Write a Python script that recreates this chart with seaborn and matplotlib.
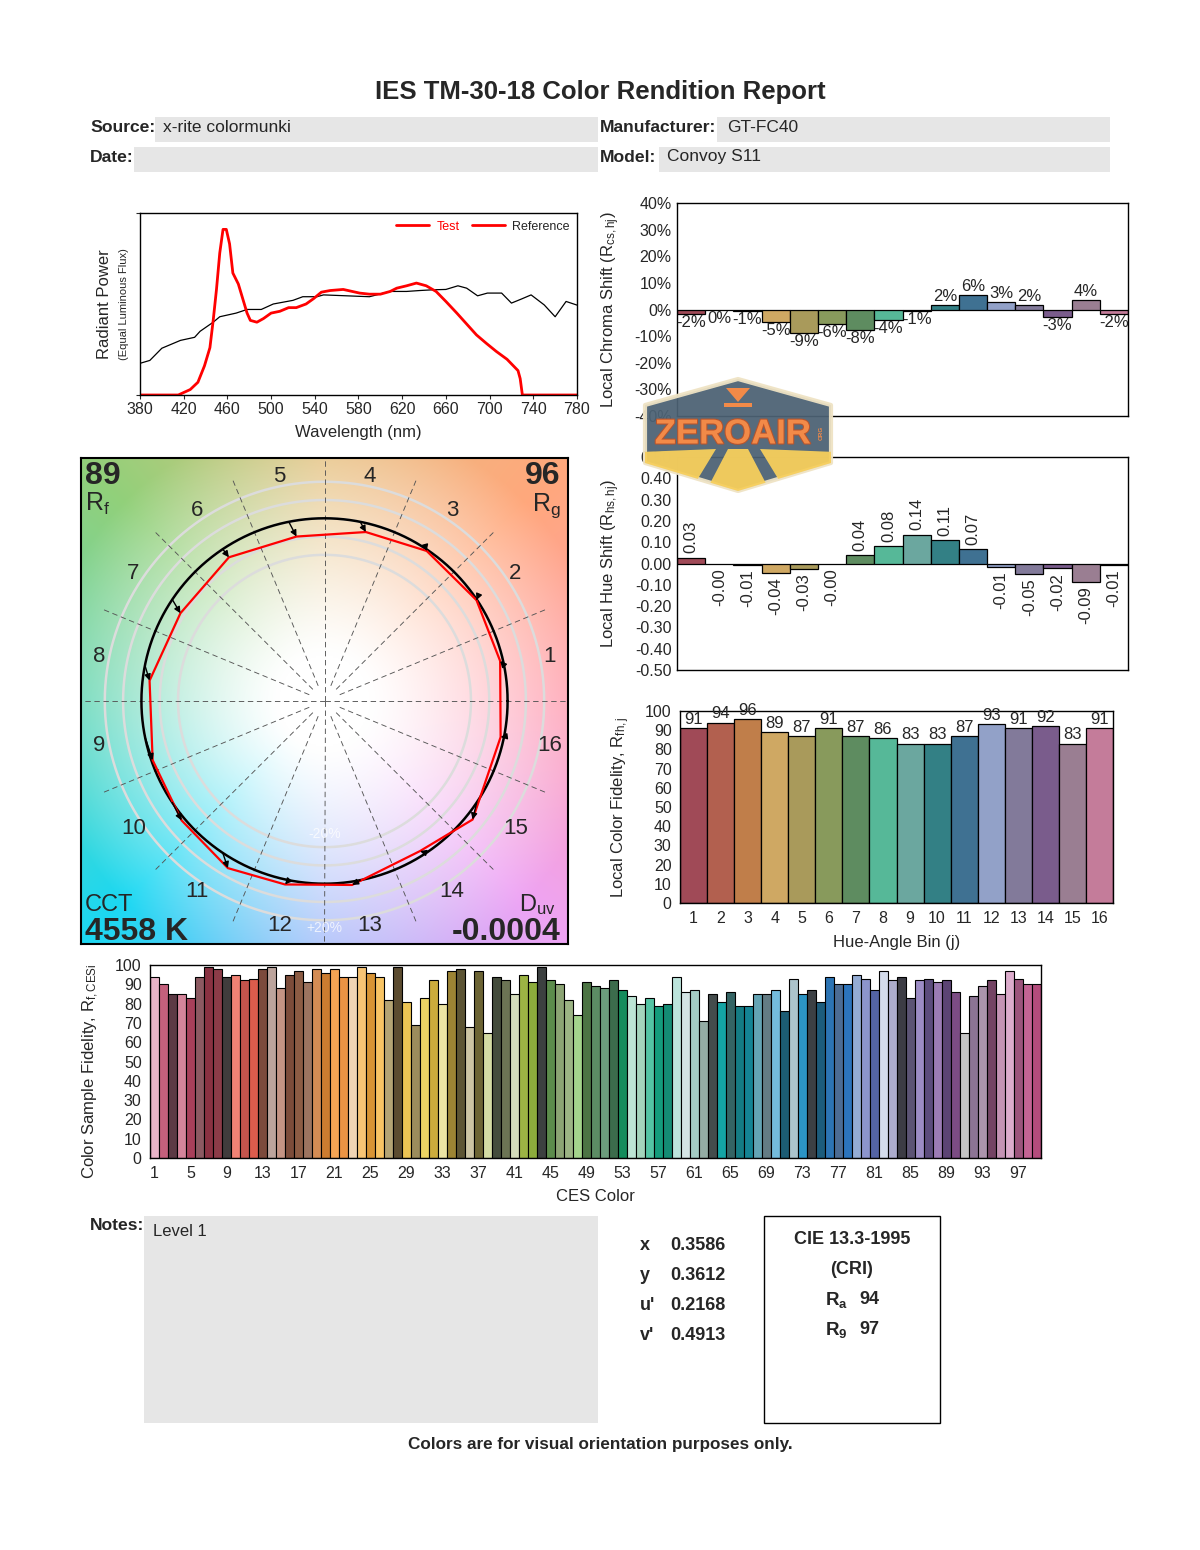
import numpy as np
import pandas as pd
import matplotlib
matplotlib.use("Agg")
import matplotlib.pyplot as plt
import matplotlib.colors as mcolors
import matplotlib.patheffects as pe
import seaborn as sns
from matplotlib.patches import Rectangle, Polygon
from matplotlib.lines import Line2D

# ---------------- data ----------------
wl_test = [380, 415, 426, 433, 439, 444, 447, 450, 453, 456, 459, 462, 465, 470, 474, 478, 481, 487, 493, 500,
           508, 516, 523, 532, 539, 546, 554, 566, 572, 581, 590, 600, 609, 615, 624, 633, 642, 651, 660, 670,
           679, 688, 697, 706, 716, 726, 728, 730, 780]
spd_test = [0, 0, 0.03, 0.07, 0.16, 0.26, 0.41, 0.58, 0.78, 0.91, 0.91, 0.83, 0.67, 0.61, 0.53, 0.45, 0.41, 0.40, 0.42, 0.45,
            0.46, 0.48, 0.48, 0.50, 0.53, 0.565, 0.574, 0.58, 0.572, 0.56, 0.554, 0.554, 0.569, 0.587, 0.60, 0.615, 0.60, 0.569, 0.514, 0.45,
            0.39, 0.33, 0.284, 0.24, 0.196, 0.134, 0.09, 0, 0]
wl_ref = [380, 389, 400, 417, 430, 435, 447, 453, 468, 478, 491, 502, 520, 529, 542, 548, 569, 590, 609, 624,
          636, 648, 660, 671, 679, 689, 698, 711, 720, 729, 738, 750, 760, 770, 780]
spd_ref = [0.174, 0.19, 0.257, 0.30, 0.317, 0.35, 0.40, 0.43, 0.45, 0.47, 0.47, 0.50, 0.52, 0.54, 0.54, 0.55, 0.545, 0.54, 0.569, 0.569,
           0.574, 0.578, 0.58, 0.60, 0.587, 0.545, 0.56, 0.56, 0.505, 0.527, 0.55, 0.495, 0.43, 0.514, 0.494]
wl_ticks = [380, 420, 460, 500, 540, 580, 620, 660, 700, 740, 780]

bins = [str(i) for i in range(1, 17)]
chroma_shift = [-0.016, -0.003, -0.007, -0.048, -0.087, -0.056, -0.078, -0.038, -0.007, 0.018, 0.056, 0.027, 0.018, -0.027, 0.037, -0.018]
hue_shift = [0.028, -0.002, -0.008, -0.043, -0.028, -0.003, 0.041, 0.08, 0.136, 0.108, 0.066, -0.015, -0.048, -0.023, -0.087, -0.006]
fidelity_hue = [91, 94, 96, 89, 87, 91, 87, 86, 83, 83, 87, 93, 91, 92, 83, 91]
hue_colors = ["#A04A57", "#B2604F", "#C07E4A", "#CFA863", "#A99A5B", "#889A5C", "#5E8C60", "#56B898",
              "#6BA79F", "#338085", "#3F7192", "#92A1C8", "#827A9A", "#7A5C8C", "#9A7E92", "#C47C9A"]

ces_values = [94, 90, 85, 85, 83, 94, 99, 98, 94, 95,
              92, 93, 98, 99, 88, 95, 97, 91, 98, 96,
              98, 94, 94, 99, 96, 94, 82, 99, 81, 69,
              83, 92, 80, 97, 98, 68, 97, 65, 94, 92,
              85, 95, 91, 99, 92, 90, 82, 74, 91, 89,
              88, 92, 87, 84, 80, 83, 79, 80, 94, 86,
              87, 71, 85, 81, 86, 79, 79, 85, 85, 87,
              76, 93, 85, 87, 81, 94, 90, 90, 95, 93,
              87, 97, 92, 94, 83, 92, 93, 91, 92, 86,
              65, 84, 89, 92, 85, 97, 93, 90, 90]
ces_colors = ["#E8B4C8", "#C4607C", "#5C3A44", "#D4849A", "#A8405A", "#8C5A62", "#8A3242", "#8C3C48", "#403C3C", "#F08274",
              "#C4544C", "#DC5C4C", "#7C4A3C", "#BCA49C", "#C49484", "#7C4C3A", "#8C5C44", "#9C7460", "#D48C54", "#CC7C30",
              "#F4A454", "#EC9444", "#F0D4B4", "#F8C474", "#D89434", "#F8C464", "#B4A474", "#5C4C30", "#ECC454", "#9C8C5C",
              "#ECD464", "#CCAC3C", "#ECE4A4", "#9C8434", "#5C5434", "#CCC4A4", "#6C6434", "#D4DCA4", "#444C3C", "#6C7454",
              "#D4DCBC", "#9CB444", "#8CAC3C", "#3C4040", "#5C8C4C", "#8CA474", "#9CB484", "#A4D48C", "#4C7444", "#5C8C64",
              "#6C9C7C", "#3C6C4C", "#148C5C", "#BCE4D4", "#A4D4BC", "#54C4A4", "#149C7C", "#148C74", "#BCE4DC", "#D4E4E4",
              "#A4CCC4", "#94ACA4", "#444C4C", "#14A4A4", "#346464", "#147C84", "#148494", "#64A4B4", "#647C84", "#74BCDC",
              "#1C5C74", "#ACC4CC", "#2C94C4", "#3C4044", "#1C5C7C", "#2C74B4", "#4C6C94", "#2C74BC", "#94ACD4", "#8C94CC",
              "#5464A4", "#D4DCEC", "#ACACCC", "#3C3C44", "#5C5474", "#9C8CC4", "#5C4C7C", "#9C7CB4", "#5C4474", "#7C4C84",
              "#C4C4C4", "#8C7494", "#AC94AC", "#744464", "#C494B4", "#DCACCC", "#9C547C", "#C46494", "#B44C7C"]
ces_names = [str(i) for i in range(1, 100)]
ces_tick_labels = [str(i) for i in range(1, 100, 4)]

bg_angles = [0, 45, 90, 135, 180, 225, 270, 315]
bg_colors = ["#FF9EB0", "#FFA87C", "#E6C282", "#92D07A", "#62D6B4", "#1CD8F2", "#A6BCFA", "#EEA4F4"]
ring_levels = [0.8, 0.9, 1.0, 1.1, 1.2]

Rf, Rg, CCT, Duv = "89", "96", "4558 K", "-0.0004"
chromaticity = [("x", "0.3586"), ("y", "0.3612"), ("u'", "0.2168"), ("v'", "0.4913")]
Ra, R9 = "94", "97"

# ---------------- style ----------------
sns.set_style("ticks")
plt.rcParams['font.family'] = ['Liberation Sans', 'DejaVu Sans']
plt.rcParams['mathtext.fontset'] = 'custom'
plt.rcParams['mathtext.rm'] = 'Liberation Sans'
plt.rcParams['mathtext.it'] = 'Liberation Sans:italic'
plt.rcParams['mathtext.bf'] = 'Liberation Sans:bold'
plt.rcParams['axes.edgecolor'] = 'black'
plt.rcParams['axes.linewidth'] = 1.0

W, H = 1200, 1550
fig = plt.figure(figsize=(12, 15.5), dpi=100, facecolor='white')


def px_axes(x0, y0, x1, y1, **kw):
    return fig.add_axes([x0 / W, 1 - y1 / H, (x1 - x0) / W, (y1 - y0) / H], **kw)


TICK = 11.5

# background / page annotations
bg = px_axes(0, 0, W, H, zorder=-1)
bg.set_xlim(0, W)
bg.set_ylim(H, 0)
bg.axis('off')
GRAY = "#E6E6E6"
bg.text(600, 92, "IES TM-30-18 Color Rendition Report", ha='center', va='center', fontsize=18.5, fontweight='bold')
for (x0, y0, x1, y1) in [(155, 117, 598, 142), (717, 117, 1110, 142), (134, 147, 598, 172), (659, 147, 1110, 172)]:
    bg.add_patch(Rectangle((x0, y0), x1 - x0, y1 - y0, facecolor=GRAY, edgecolor='none'))
HL, HV = 12.6, 12.5
bg.text(90, 127, "Source:", ha='left', va='center', fontsize=HL, fontweight='bold')
bg.text(163, 127, "x-rite colormunki", ha='left', va='center', fontsize=HV)
bg.text(600, 127, "Manufacturer:", ha='left', va='center', fontsize=HL, fontweight='bold')
bg.text(727, 127, "GT-FC40", ha='left', va='center', fontsize=HV)
bg.text(90, 157, "Date:", ha='left', va='center', fontsize=HL, fontweight='bold')
bg.text(600, 157, "Model:", ha='left', va='center', fontsize=HL, fontweight='bold')
bg.text(667, 157, "Convoy S11", ha='left', va='center', fontsize=HV)

bg.text(90, 1226, "Notes:", ha='left', va='center', fontsize=HL, fontweight='bold')
bg.add_patch(Rectangle((144, 1216), 454, 207, facecolor=GRAY, edgecolor='none'))
bg.text(153, 1231, "Level 1", ha='left', va='center', fontsize=12)
for k, (lab, val) in enumerate(chromaticity):
    yy = 1245 + 30 * k
    bg.text(640, yy, lab, ha='left', va='center', fontsize=13, fontweight='bold')
    bg.text(670, yy, val, ha='left', va='center', fontsize=13, fontweight='bold')
bg.add_patch(Rectangle((764, 1216), 176, 207, facecolor='none', edgecolor='black', lw=1))
bg.text(852, 1240, "CIE 13.3-1995", ha='center', va='center', fontsize=13, fontweight='bold')
bg.text(852, 1270, "(CRI)", ha='center', va='center', fontsize=13, fontweight='bold')
bg.text(825, 1300, r"R$_{\mathbf{a}}$", ha='left', va='center', fontsize=13.5, fontweight='bold')
bg.text(859, 1300, Ra, ha='left', va='center', fontsize=13, fontweight='bold')
bg.text(825, 1330, r"R$_{\mathbf{9}}$", ha='left', va='center', fontsize=13.5, fontweight='bold')
bg.text(859, 1330, R9, ha='left', va='center', fontsize=13, fontweight='bold')
bg.text(600, 1444, "Colors are for visual orientation purposes only.", ha='center', va='center',
        fontsize=12.3, fontweight='bold')

# ---------------- spectrum ----------------
ax = px_axes(140, 213, 577, 395)
sns.lineplot(x=wl_ref, y=spd_ref, color='black', lw=0.9, ax=ax, estimator=None)
sns.lineplot(x=wl_test, y=spd_test, color='red', lw=2.0, ax=ax, estimator=None)
ax.set_xlim(380, 780)
ax.set_ylim(0, 1)
ax.set_xticks(wl_ticks)
ax.set_xticklabels([str(t) for t in wl_ticks], fontsize=TICK)
ax.set_yticks([0, 1])
ax.set_yticklabels([])
ax.tick_params(axis='both', length=3, width=0.8, pad=2)
ax.set_xlabel("")
ax.set_ylabel("")
ax.text(0.5, -0.205, "Wavelength (nm)", transform=ax.transAxes, ha='center', va='center', fontsize=12)
ax.text(-0.082, 0.5, "Radiant Power", transform=ax.transAxes, rotation=90, ha='center', va='center', fontsize=12)
ax.text(-0.036, 0.5, "(Equal Luminous Flux)", transform=ax.transAxes, rotation=90, ha='center', va='center', fontsize=8)
handles = [Line2D([], [], color='red', lw=2), Line2D([], [], color='red', lw=2)]
leg = ax.legend(handles, ["Test", "Reference"], loc='upper right', ncol=2, frameon=False, fontsize=9,
                handlelength=2.6, columnspacing=1.0, borderaxespad=0.2, handletextpad=0.6)
leg.get_texts()[0].set_color('red')
for s in ax.spines.values():
    s.set_visible(True)

# ---------------- chroma shift ----------------
df_c = pd.DataFrame({"bin": bins, "v": chroma_shift})
ax = px_axes(677, 203, 1128, 416)
sns.barplot(data=df_c, x="bin", y="v", hue="bin", order=bins, hue_order=bins, palette=hue_colors,
            legend=False, width=1.0, saturation=1, edgecolor='black', linewidth=0.9, errorbar=None, ax=ax)
ax.set_xlim(-0.5, 15.5)
ax.set_ylim(-0.4, 0.4)
cticks = [k / 10 for k in range(-4, 5)]
ax.set_yticks(cticks)
ax.set_yticklabels([f"{int(round(t * 100))}%" for t in cticks], fontsize=TICK)
ax.set_xticks([])
ax.tick_params(axis='y', length=0, pad=4)
ax.set_xlabel("")
ax.set_ylabel(r"Local Chroma Shift (R$_{\mathregular{cs,hj}}$)", fontsize=12)
ax.yaxis.set_label_coords(-0.122, 0.5)
for i, v in enumerate(chroma_shift):
    lab = f"{int(round(v * 100))}%"
    if v >= 0:
        ax.text(i, v + 0.004, lab, ha='center', va='bottom', fontsize=12)
    else:
        ax.text(i, v - 0.004, lab, ha='center', va='top', fontsize=12)

# ---------------- hue shift ----------------
df_h = pd.DataFrame({"bin": bins, "v": hue_shift})
ax = px_axes(677, 457, 1128, 670)
sns.barplot(data=df_h, x="bin", y="v", hue="bin", order=bins, hue_order=bins, palette=hue_colors,
            legend=False, width=1.0, saturation=1, edgecolor='black', linewidth=0.9, errorbar=None, ax=ax)
ax.set_xlim(-0.5, 15.5)
ax.set_ylim(-0.5, 0.5)
hticks = [round(k / 10, 2) for k in range(-5, 6)]
ax.set_yticks(hticks)
ax.set_yticklabels([f"{t:.2f}" for t in hticks], fontsize=TICK)
ax.set_xticks([])
ax.tick_params(axis='y', length=0, pad=4)
ax.set_xlabel("")
ax.set_ylabel(r"Local Hue Shift (R$_{\mathregular{hs,hj}}$)", fontsize=12)
ax.yaxis.set_label_coords(-0.122, 0.5)
for i, v in enumerate(hue_shift):
    lab = f"{v:.2f}"
    if v >= 0:
        ax.text(i, v + 0.02, lab, ha='center', va='bottom', rotation=90, fontsize=12)
    else:
        ax.text(i, v - 0.02, lab, ha='center', va='top', rotation=90, fontsize=12)

# ---------------- local fidelity ----------------
df_f = pd.DataFrame({"bin": bins, "v": fidelity_hue})
ax = px_axes(680, 711, 1113, 903)
sns.barplot(data=df_f, x="bin", y="v", hue="bin", order=bins, hue_order=bins, palette=hue_colors,
            legend=False, width=1.0, saturation=1, edgecolor='black', linewidth=0.9, errorbar=None, ax=ax)
ax.set_xlim(-0.5, 15.5)
ax.set_ylim(0, 100)
ax.set_yticks(range(0, 101, 10))
ax.set_yticklabels([str(t) for t in range(0, 101, 10)], fontsize=TICK)
ax.set_xticks(range(16))
ax.set_xticklabels(bins, fontsize=TICK)
ax.tick_params(axis='both', length=0, pad=6)
ax.set_xlabel("Hue-Angle Bin (j)", fontsize=12)
ax.xaxis.set_label_coords(0.5, -0.165)
ax.set_ylabel(r"Local Color Fidelity, R$_{\mathregular{fh,j}}$", fontsize=12)
ax.yaxis.set_label_coords(-0.111, 0.5)
for i, v in enumerate(fidelity_hue):
    ax.text(i, v + 0.6, str(v), ha='center', va='bottom', fontsize=12)

# ---------------- CES fidelity ----------------
df_s = pd.DataFrame({"ces": ces_names, "v": ces_values})
ax = px_axes(150, 965, 1041, 1158)
sns.barplot(data=df_s, x="ces", y="v", hue="ces", order=ces_names, hue_order=ces_names, palette=ces_colors,
            legend=False, width=1.0, saturation=1, edgecolor='black', linewidth=0.8, errorbar=None, ax=ax)
ax.set_xlim(-0.5, 98.5)
ax.set_ylim(0, 100)
ax.set_yticks(range(0, 101, 10))
ax.set_yticklabels([str(t) for t in range(0, 101, 10)], fontsize=TICK)
ax.set_xticks(range(0, 99, 4))
ax.set_xticklabels(ces_tick_labels, fontsize=TICK)
ax.tick_params(axis='both', length=0, pad=6)
ax.set_xlabel("CES Color", fontsize=12)
ax.xaxis.set_label_coords(0.5, -0.16)
ax.set_ylabel(r"Color Sample Fidelity, R$_{\mathregular{f,CESi}}$", fontsize=12)
ax.yaxis.set_label_coords(-0.055, 0.45)

# ---------------- color vector graphic ----------------
ax = px_axes(81, 458, 568, 944)
L = 1.33
g = np.linspace(-L, L, 420)
X, Y = np.meshgrid(g, g)
Rr = np.hypot(X, Y)
A = np.degrees(np.arctan2(Y, X)) % 360
ang = np.array(bg_angles + [360], dtype=float)
cols = np.array([mcolors.to_rgb(c) for c in bg_colors + [bg_colors[0]]])
img = np.stack([np.interp(A, ang, cols[:, k]) for k in range(3)], axis=-1)
t = np.clip((Rr - 0.25) / 1.3, 0, 1) ** 1.2
img = 1 - t[..., None] * (1 - img)
ax.imshow(img, extent=[-L, L, -L, L], origin='lower', aspect='auto', interpolation='bilinear', zorder=0)

th = np.linspace(0, 2 * np.pi, 361)
for rr in ring_levels:
    ax.plot(rr * np.cos(th), rr * np.sin(th), color='#DCDCDC', lw=1.8, zorder=1)
for k in range(16):
    a = np.radians(k * 22.5)
    r0 = 0.0 if k % 4 == 0 else 0.09
    ax.plot([r0 * np.cos(a), 1.32 * np.cos(a)], [r0 * np.sin(a), 1.32 * np.sin(a)],
            color='#555555', lw=0.65, ls=(0, (6, 4)), zorder=2)
ax.text(0, -0.73, "-20%", color='white', alpha=0.75, fontsize=10, ha='center', va='center', zorder=2)
ax.text(0, -1.245, "+20%", color='white', alpha=0.75, fontsize=10, ha='center', va='center', zorder=2)

ax.plot(np.cos(th), np.sin(th), color='black', lw=1.8, zorder=3)
theta_c = np.radians((np.arange(16) + 0.5) * 22.5)
ang_t = theta_c + np.array(hue_shift)
rad_t = 1 + np.array(chroma_shift)
xt = rad_t * np.cos(ang_t)
yt = rad_t * np.sin(ang_t)
poly = pd.DataFrame({"x": np.append(xt, xt[0]), "y": np.append(yt, yt[0])})
sns.lineplot(data=poly, x="x", y="y", sort=False, estimator=None, color='red', lw=1.6, ax=ax, zorder=4)
for j in range(16):
    ax.annotate("", xy=(xt[j], yt[j]), xytext=(np.cos(theta_c[j]), np.sin(theta_c[j])),
                arrowprops=dict(arrowstyle='-|>', color='black', lw=1.0, mutation_scale=9,
                                shrinkA=0, shrinkB=0), zorder=5)
for j in range(16):
    ax.text(1.255 * np.cos(theta_c[j]), 1.255 * np.sin(theta_c[j]), bins[j], ha='center', va='center',
            fontsize=16, zorder=6)
ax.set_xlim(-L, L)
ax.set_ylim(-L, L)
ax.set_xticks([])
ax.set_yticks([])
ax.set_xlabel("")
ax.set_ylabel("")
for s in ax.spines.values():
    s.set_linewidth(1.5)
ax.text(0.008, 0.993, Rf, transform=ax.transAxes, ha='left', va='top', fontsize=23, fontweight='bold')
ax.text(0.008, 0.932, r"R$_{\mathregular{f}}$", transform=ax.transAxes, ha='left', va='top', fontsize=18)
ax.text(0.985, 0.993, Rg, transform=ax.transAxes, ha='right', va='top', fontsize=23, fontweight='bold')
ax.text(0.985, 0.932, r"R$_{\mathregular{g}}$", transform=ax.transAxes, ha='right', va='top', fontsize=18)
ax.text(0.008, 0.068, "CCT", transform=ax.transAxes, ha='left', va='baseline', fontsize=17)
ax.text(0.008, 0.008, CCT, transform=ax.transAxes, ha='left', va='baseline', fontsize=23, fontweight='bold')
ax.text(0.975, 0.068, r"D$_{\mathregular{uv}}$", transform=ax.transAxes, ha='right', va='baseline', fontsize=17)
ax.text(0.985, 0.008, Duv, transform=ax.transAxes, ha='right', va='baseline', fontsize=23, fontweight='bold')

# ---------------- watermark ----------------
wm = px_axes(0, 0, W, H, zorder=20)
wm.set_xlim(0, W)
wm.set_ylim(H, 0)
wm.axis('off')
hexpts = [(738, 379), (831, 405), (831, 463), (738, 491), (645, 463), (645, 405)]
hexp = Polygon(hexpts, closed=True, facecolor='#4C6274', edgecolor='#EFE3C4', lw=3, alpha=0.94, zorder=1,
               joinstyle='round')
wm.add_patch(hexp)
for pts in [[(728, 449), (748, 449), (772, 495), (704, 495)],
            [(640, 452), (716, 449), (688, 495), (640, 495)],
            [(760, 449), (836, 452), (836, 495), (788, 495)]]:
    p = Polygon(pts, closed=True, facecolor='#F7CF5C', edgecolor='none', alpha=0.95, zorder=2)
    wm.add_patch(p)
    p.set_clip_path(hexp)
wm.add_patch(Polygon([(726, 388), (750, 388), (738, 402)], closed=True, facecolor='#F28A48', edgecolor='none', zorder=3))
wm.add_patch(Rectangle((724, 403), 28, 4, facecolor='#F28A48', edgecolor='none', zorder=3))
wm.text(733, 434, "ZEROAIR", ha='center', va='center', fontsize=25, fontweight='bold', color='#F28A48', zorder=4,
        path_effects=[pe.withStroke(linewidth=1.5, foreground='#B8542C')])
wm.text(821, 433, "ORG", ha='center', va='center', fontsize=4.5, fontweight='bold', color='#F28A48', rotation=90, zorder=4)

fig.savefig("out.png", dpi=100, facecolor='white')
